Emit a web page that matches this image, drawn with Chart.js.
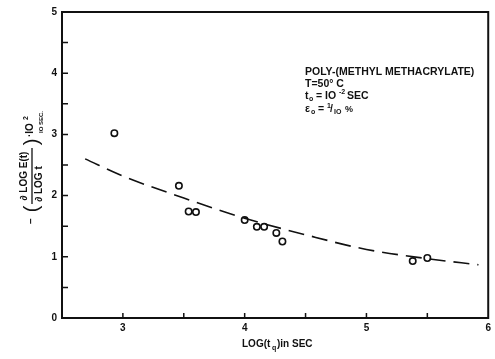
<!DOCTYPE html>
<html lang="en">
<head>
<meta charset="UTF-8">
<title>Poly-(methyl methacrylate)</title>
<script src="https://cdn.jsdelivr.net/npm/chart.js"></script>
<style>
    body { margin: 0; background: #fff; }
    canvas { display: block; }
</style>
</head>
<body>
<canvas id="chart" width="495" height="359"></canvas>
<script>
// measured points
const logT  = [2.93, 3.46, 3.54, 3.60, 4.00, 4.10, 4.16, 4.26, 4.31, 5.38, 5.50];
const slope = [3.02, 2.16, 1.74, 1.73, 1.60, 1.49, 1.49, 1.39, 1.25, 0.93, 0.98];

// dashed fitted curve
const curveX = [2.69, 3.0, 3.5, 4.0, 4.5, 5.0, 5.5, 5.92];
const curveY = [2.60, 2.32, 1.96, 1.63, 1.36, 1.12, 0.97, 0.87];

const xTickLabels = [3, 4, 5, 6];
const yTickLabels = [0, 1, 2, 3, 4, 5];
const xMinor = [3.5, 4.5, 5.5];
const yMinor = [0.5, 1.5, 2.5, 3.5, 4.5];

const ink = '#111';
const bold = s => 'bold ' + s + 'px "Liberation Sans", Arial, sans-serif';

const decor = {
    id: 'decor',
    afterDraw(chart) {
        const ctx = chart.ctx, a = chart.chartArea;
        const xs = chart.scales.x, ys = chart.scales.y;
        ctx.save();
        ctx.strokeStyle = ink;
        ctx.fillStyle = ink;

        // frame
        ctx.lineWidth = 2;
        ctx.strokeRect(a.left, a.top, a.right - a.left, a.bottom - a.top);

        // inward tick marks
        ctx.lineWidth = 1.5;
        ctx.beginPath();
        xTickLabels.concat(xMinor).forEach(v => {
            const px = xs.getPixelForValue(v);
            if (px > a.right - 2) return;
            ctx.moveTo(px, a.bottom); ctx.lineTo(px, a.bottom - 5);
        });
        yTickLabels.concat(yMinor).forEach(v => {
            const py = ys.getPixelForValue(v);
            if (py < a.top + 2 || py > a.bottom - 2) return;
            ctx.moveTo(a.left, py); ctx.lineTo(a.left + 6, py);
        });
        ctx.stroke();

        // annotation
        ctx.textBaseline = 'alphabetic';
        ctx.textAlign = 'left';
        ctx.font = bold(10.5);
        ctx.fillText('POLY-(METHYL METHACRYLATE)', 305, 75);
        ctx.fillText('T=50° C', 305, 87);
        ctx.fillText('t', 305, 99);
        ctx.font = bold(7); ctx.fillText('o', 309, 101);
        ctx.font = bold(10.5); ctx.fillText('= IO', 316, 99);
        ctx.font = bold(7); ctx.fillText('-2', 339, 94);
        ctx.font = bold(10.5); ctx.fillText('SEC', 347, 99);
        ctx.fillText('\u03b5', 305, 112);
        ctx.font = bold(7); ctx.fillText('o', 311, 114);
        ctx.font = bold(10.5); ctx.fillText('=', 318, 112);
        ctx.font = bold(7); ctx.fillText('1', 327, 108);
        ctx.font = bold(10.5); ctx.fillText('/', 330, 112);
        ctx.font = bold(7); ctx.fillText('IO', 334, 114);
        ctx.font = bold(9); ctx.fillText('%', 345, 112);

        // x title
        ctx.font = bold(10);
        ctx.fillText('LOG(t', 242, 347);
        ctx.font = bold(7);
        ctx.fillText('q', 272, 350);
        ctx.font = bold(10);
        ctx.fillText(')in SEC', 277, 347);

        // y title, rotated
        ctx.translate(31, 185);
        ctx.rotate(-Math.PI / 2);
        ctx.textAlign = 'center';
        ctx.textBaseline = 'middle';
        ctx.font = bold(10);
        ctx.fillText('\u2212', -36, 0);
        ctx.font = '20px "Liberation Sans", Arial, sans-serif';
        ctx.fillText('(', -24, 1);
        ctx.fillText(')', 43, 1);
        ctx.font = bold(10);
        ctx.fillText('\u2202 LOG E(t)', 9, -7);
        ctx.fillText('\u2202 LOG t', 1, 8);
        ctx.lineWidth = 1.3;
        ctx.beginPath();
        ctx.moveTo(-19, 1); ctx.lineTo(37, 1);
        ctx.stroke();
        ctx.textAlign = 'left';
        ctx.font = bold(10);
        ctx.fillText('\u00b7IO', 48, -1);
        ctx.font = bold(7);
        ctx.fillText('2', 65, -5);
        ctx.font = bold(6);
        ctx.fillText('IO SEC.', 52, 10);
        ctx.restore();
    }
};

new Chart(document.getElementById('chart'), {
    type: 'scatter',
    data: {
        datasets: [{
            type: 'line',
            data: curveX.map((x, i) => ({ x: x, y: curveY[i] })),
            borderColor: ink,
            borderWidth: 1.6,
            borderDash: [16, 8],
            pointRadius: 0,
            tension: 0.4,
            cubicInterpolationMode: 'monotone',
            fill: false
        }, {
            data: logT.map((x, i) => ({ x: x, y: slope[i] })),
            pointRadius: 3.2,
            pointBorderWidth: 1.6,
            pointBorderColor: ink,
            pointBackgroundColor: '#fff'
        }]
    },
    options: {
        responsive: false,
        animation: false,
        layout: { padding: { top: 12, right: 5, left: 0, bottom: 0 } },
        plugins: { legend: { display: false }, tooltip: { enabled: false } },
        scales: {
            x: {
                type: 'linear', min: 2.5, max: 6,
                grid: { display: false, drawTicks: false },
                border: { display: false },
                afterFit: s => { s.height = 41; },
                ticks: {
                    stepSize: 0.5, padding: 4, color: ink, font: { size: 10, weight: 'bold', family: '"Liberation Sans", Arial' },
                    maxRotation: 0,
                    callback: v => xTickLabels.includes(v) ? String(v) : ''
                }
            },
            y: {
                min: 0, max: 5,
                grid: { display: false, drawTicks: false },
                border: { display: false },
                afterFit: s => { s.width = 62; },
                ticks: {
                    stepSize: 0.5, padding: 5, color: ink, font: { size: 10, weight: 'bold', family: '"Liberation Sans", Arial' },
                    callback: v => yTickLabels.includes(v) ? String(v) : ''
                }
            }
        }
    },
    plugins: [decor]
});
</script>
</body>
</html>
